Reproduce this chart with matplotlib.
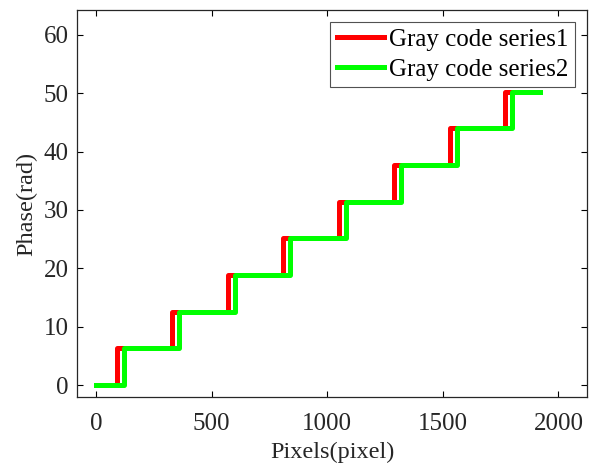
import numpy as np
import matplotlib.pyplot as plt

plt.rcParams['font.family'] = ['Liberation Serif', 'DejaVu Serif']

# positions where the phase jumps by 2*pi (pixel)
sauts1 = [90, 330, 570, 810, 1050, 1290, 1530, 1770]
sauts2 = [120, 360, 600, 840, 1080, 1320, 1560, 1800]
niveaux = [0, 6.2832, 12.5664, 18.8496, 25.1327, 31.4159, 37.6991, 43.9823, 50.2655]
x_fin = 1920


def escalier(sauts):
    x = [0]
    y = [niveaux[0]]
    for k, s in enumerate(sauts):
        x += [s, s]
        y += [niveaux[k], niveaux[k + 1]]
    x.append(x_fin)
    y.append(niveaux[-1])
    return x, y


fig = plt.figure(figsize=(5.96, 4.70), dpi=100)
ax = fig.add_axes([0.1297, 0.1547, 0.8547, 0.8233])

x1, y1 = escalier(sauts1)
x2, y2 = escalier(sauts2)
ax.plot(x1, y1, color=(1, 0, 0), linewidth=3.6, label='Gray code series1')
ax.plot(x2, y2, color=(0, 1, 0), linewidth=3.6, label='Gray code series2')

ax.set_xlim(-81, 2122)
ax.set_ylim(-2.1, 64.2)
ax.set_xticks([0, 500, 1000, 1500, 2000])
ax.set_yticks([0, 10, 20, 30, 40, 50, 60])
ax.tick_params(direction='in', length=4, width=0.8, labelsize=18, top=True, right=True,
               labelcolor='#262626')
ax.tick_params(axis='x', pad=11)
ax.tick_params(axis='y', pad=6)
for sp in ax.spines.values():
    sp.set_linewidth(0.9)
    sp.set_color('#262626')

ax.set_xlabel('Pixels(pixel)', fontsize=17.5, labelpad=5, color='#262626')
ax.set_ylabel('Phase(rad)', fontsize=17.5, labelpad=5, color='#262626')

leg = ax.legend(loc='upper right', fontsize=18, frameon=True, fancybox=False,
                edgecolor='#262626', handlelength=1.9, handletextpad=0.2,
                borderpad=0.25, labelspacing=0.3, borderaxespad=0.48)
leg.get_frame().set_linewidth(0.8)

fig.savefig('out.png', dpi=100)
